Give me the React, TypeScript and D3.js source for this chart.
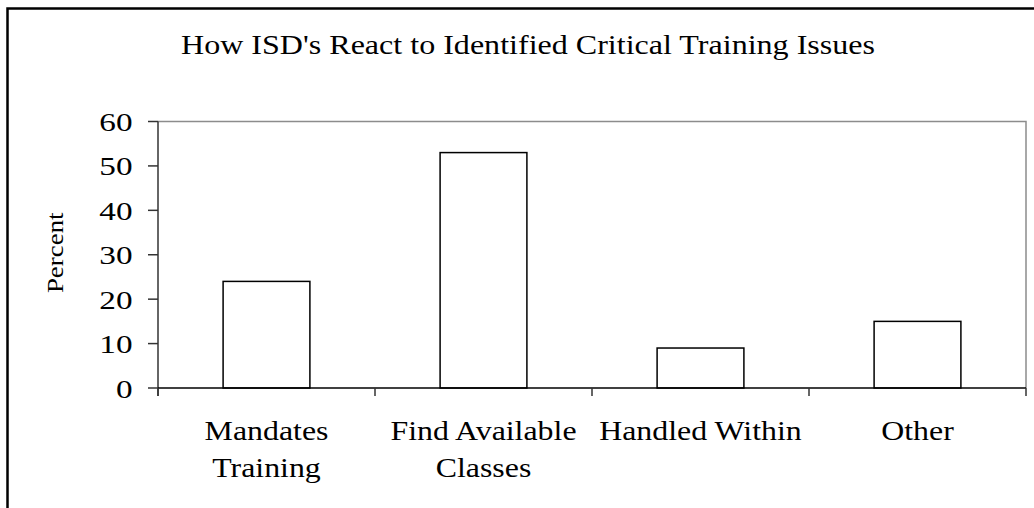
import React, { useRef, useEffect } from "react";
import * as d3 from "d3";

const categories = [
  ["Mandates", "Training"],
  ["Find Available", "Classes"],
  ["Handled Within"],
  ["Other"],
];
const percentValues = [24, 53, 9, 15];
const yTicks = [0, 10, 20, 30, 40, 50, 60];
const chartTitle = "How ISD's React to Identified Critical Training Issues";
const yAxisTitle = "Percent";

const W = 1034;
const H = 508;
const plot = { left: 158, right: 1026, top: 121.5, bottom: 388 };
const FONT = "'Liberation Serif', 'Times New Roman', serif";

// the original text looks widened, so stretch each string a bit
const stretchText = (sel: any, factor: number) => {
  sel.each(function (this: SVGTextElement) {
    const len = this.getComputedTextLength();
    d3.select(this)
      .attr("textLength", len * factor)
      .attr("lengthAdjust", "spacingAndGlyphs");
  });
};

const App = () => {
  const svgRef = useRef<SVGSVGElement>(null);

  useEffect(() => {
    const svg = d3.select(svgRef.current);
    svg.selectAll("*").remove();

    const x = d3
      .scaleBand<number>()
      .domain(categories.map((_, i) => i))
      .range([plot.left, plot.right])
      .paddingInner(0.6)
      .paddingOuter(0.3);

    const y = d3.scaleLinear().domain([0, 60]).range([plot.bottom, plot.top]);

    // outer frame (only top and left edges visible)
    svg
      .append("path")
      .attr("d", `M7.5,${H} V8.5 H${W}`)
      .attr("fill", "none")
      .attr("stroke", "#000")
      .attr("stroke-width", 2.5);

    // plot area top/right border
    svg
      .append("path")
      .attr("d", `M${plot.left},${plot.top} H${plot.right} V${plot.bottom}`)
      .attr("fill", "none")
      .attr("stroke", "#8c8c8c")
      .attr("stroke-width", 1.5);

    // bars
    svg
      .append("g")
      .selectAll("rect")
      .data(percentValues)
      .join("rect")
      .attr("x", (_, i) => x(i)!)
      .attr("y", (d) => y(d))
      .attr("width", x.bandwidth())
      .attr("height", (d) => y(0) - y(d))
      .attr("fill", "#fff")
      .attr("stroke", "#000")
      .attr("stroke-width", 1.5);

    // y axis
    const yAxisG = svg.append("g");
    yAxisG
      .append("line")
      .attr("x1", plot.left)
      .attr("x2", plot.left)
      .attr("y1", plot.top)
      .attr("y2", plot.bottom + 8)
      .attr("stroke", "#333")
      .attr("stroke-width", 1.5);
    yAxisG
      .selectAll(".ytick")
      .data(yTicks)
      .join("line")
      .attr("class", "ytick")
      .attr("x1", plot.left - 10)
      .attr("x2", plot.left)
      .attr("y1", (d) => y(d))
      .attr("y2", (d) => y(d))
      .attr("stroke", "#333")
      .attr("stroke-width", 1.5);
    const yLabels = yAxisG
      .selectAll(".ylabel")
      .data(yTicks)
      .join("text")
      .attr("class", "ylabel")
      .attr("x", plot.left - 25.5)
      .attr("y", (d) => y(d) + 9.5)
      .attr("text-anchor", "end")
      .attr("font-family", FONT)
      .attr("font-size", 25)
      .attr("fill", "#000")
      .text((d) => d);
    stretchText(yLabels, 1.33);

    // x axis
    const xAxisG = svg.append("g");
    xAxisG
      .append("line")
      .attr("x1", plot.left)
      .attr("x2", plot.right)
      .attr("y1", plot.bottom)
      .attr("y2", plot.bottom)
      .attr("stroke", "#000")
      .attr("stroke-width", 1.5);
    const edges = categories.map((_, i) => x(i)! - (x.step() - x.bandwidth()) / 2);
    edges.push(plot.right);
    xAxisG
      .selectAll(".xtick")
      .data(edges)
      .join("line")
      .attr("class", "xtick")
      .attr("x1", (d) => d)
      .attr("x2", (d) => d)
      .attr("y1", plot.bottom)
      .attr("y2", plot.bottom + 8)
      .attr("stroke", "#333")
      .attr("stroke-width", 1.5);

    categories.forEach((lines, i) => {
      const cx = x(i)! + x.bandwidth() / 2;
      const t = xAxisG
        .selectAll(`.xl${i}`)
        .data(lines)
        .join("text")
        .attr("x", cx)
        .attr("y", (_, j) => 440 + j * 37)
        .attr("text-anchor", "middle")
        .attr("font-family", FONT)
        .attr("font-size", 27)
        .attr("fill", "#000")
        .text((d) => d);
      stretchText(t, 1.18);
    });

    // y axis title
    const yt = svg
      .append("text")
      .attr("transform", `translate(62.5,${(plot.top + plot.bottom) / 2 - 2}) rotate(-90)`)
      .attr("text-anchor", "middle")
      .attr("font-family", FONT)
      .attr("font-size", 23)
      .attr("fill", "#000")
      .text(yAxisTitle);
    stretchText(yt, 1.17);

    // chart title
    svg
      .append("text")
      .attr("x", 528)
      .attr("y", 53.5)
      .attr("text-anchor", "middle")
      .attr("font-family", FONT)
      .attr("font-size", 28)
      .attr("fill", "#000")
      .attr("textLength", 694)
      .attr("lengthAdjust", "spacingAndGlyphs")
      .text(chartTitle);
  }, []);

  return (
    <svg
      ref={svgRef}
      width={W}
      height={H}
      style={{ position: "absolute", left: 0, top: 0, background: "#fff" }}
    ></svg>
  );
};

export default App;
